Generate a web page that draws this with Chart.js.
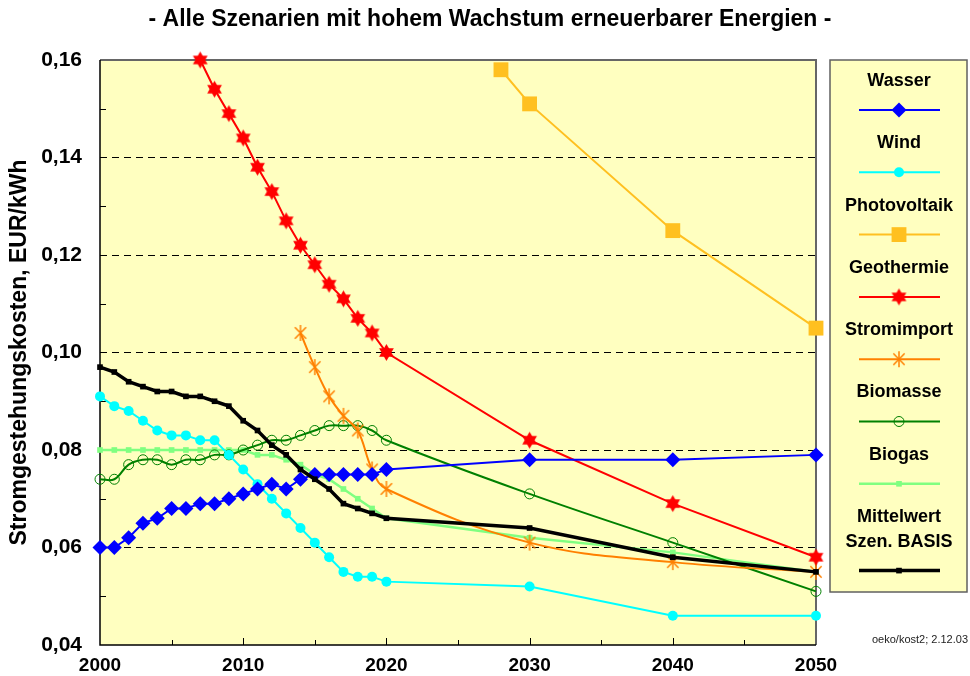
<!DOCTYPE html>
<html>
<head>
<meta charset="utf-8">
<script src="https://cdn.jsdelivr.net/npm/chart.js@4.4.1/dist/chart.umd.min.js"></script>
<style>
  html, body { margin: 0; padding: 0; background: #fff; }
  #wrap { position: relative; width: 970px; height: 676px; }
</style>
</head>
<body>
<div id="wrap"><canvas id="chart" width="970" height="676"></canvas></div>
<script>
// Data (EUR/kWh)
const years = [2000, 2001, 2002, 2003, 2004, 2005, 2006, 2007, 2008, 2009, 2010,
               2011, 2012, 2013, 2014, 2015, 2016, 2017, 2018, 2019, 2020,
               2030, 2040, 2050];
const wasser = [0.060, 0.060, 0.062, 0.065, 0.066, 0.068, 0.068, 0.069, 0.069, 0.070, 0.071,
                0.072, 0.073, 0.072, 0.074, 0.075, 0.075, 0.075, 0.075, 0.075, 0.076,
                0.078, 0.078, 0.079];
const wind = [0.091, 0.089, 0.088, 0.086, 0.084, 0.083, 0.083, 0.082, 0.082, 0.079, 0.076,
              0.073, 0.070, 0.067, 0.064, 0.061, 0.058, 0.055, 0.054, 0.054, 0.053,
              0.052, 0.046, 0.046];
const pvYears = [2028, 2030, 2040, 2050];
const photovoltaik = [0.158, 0.151, 0.125, 0.105];
const geothermie = [null, null, null, null, null, null, null, 0.160, 0.154, 0.149, 0.144,
                    0.138, 0.133, 0.127, 0.122, 0.118, 0.114, 0.111, 0.107, 0.104, 0.100,
                    0.082, 0.069, 0.058];
const stromimport = [null, null, null, null, null, null, null, null, null, null, null,
                     null, null, null, 0.104, 0.097, 0.091, 0.087, 0.084, 0.076, 0.072,
                     0.061, 0.057, 0.055];
const biomasse = [0.074, 0.074, 0.077, 0.078, 0.078, 0.077, 0.078, 0.078, 0.079, 0.079, 0.080,
                  0.081, 0.082, 0.082, 0.083, 0.084, 0.085, 0.085, 0.085, 0.084, 0.082,
                  0.071, 0.061, 0.051];
const biogas = [0.080, 0.080, 0.080, 0.080, 0.080, 0.080, 0.080, 0.080, 0.080, 0.080, 0.080,
                0.079, 0.079, 0.078, 0.077, 0.075, 0.074, 0.072, 0.070, 0.068, 0.066,
                0.062, 0.059, 0.055];
const mittelwert = [0.097, 0.096, 0.094, 0.093, 0.092, 0.092, 0.091, 0.091, 0.090, 0.089, 0.086,
                    0.084, 0.081, 0.079, 0.076, 0.074, 0.072, 0.069, 0.068, 0.067, 0.066,
                    0.064, 0.058, 0.055];

const yTicks = [0.04, 0.06, 0.08, 0.10, 0.12, 0.14, 0.16];
const xTickLabels = [2000, 2010, 2020, 2030, 2040, 2050];

function pts(xs, ys) {
    return xs.map((x, i) => ({ x: x, y: ys[i] }));
}

// filled six-pointed star marker
function hexagram(color, r) {
    const c = document.createElement('canvas');
    const s = Math.ceil(r * 2 + 2);
    c.width = c.height = s;
    const g = c.getContext('2d');
    g.fillStyle = color;
    [-Math.PI / 2, Math.PI / 2].forEach(off => {
        g.beginPath();
        for (let i = 0; i < 3; i++) {
            const a = off + i * 2 * Math.PI / 3;
            g.lineTo(s / 2 + r * Math.cos(a), s / 2 + r * Math.sin(a));
        }
        g.closePath();
        g.fill();
    });
    return c;
}

// asterisk marker (vertical + X)
function asterisk(color, r) {
    const c = document.createElement('canvas');
    const s = Math.ceil(r * 2 + 2);
    c.width = c.height = s;
    const g = c.getContext('2d');
    g.strokeStyle = color;
    g.lineWidth = 1.5;
    [Math.PI / 2, Math.PI / 4, -Math.PI / 4].forEach(a => {
        g.beginPath();
        g.moveTo(s / 2 - r * Math.cos(a), s / 2 - r * Math.sin(a));
        g.lineTo(s / 2 + r * Math.cos(a), s / 2 + r * Math.sin(a));
        g.stroke();
    });
    return c;
}

const starRed = hexagram('#FF0000', 8.5);
const starOrange = asterisk('#FF8000', 8);

const datasets = [
    { label: 'Wasser', data: pts(years, wasser), borderColor: '#0000FF', backgroundColor: '#0000FF',
      borderWidth: 2, pointStyle: 'rectRot', pointRadius: 7.5 },
    { label: 'Wind', data: pts(years, wind), borderColor: '#00FFFF', backgroundColor: '#00FFFF',
      borderWidth: 2, pointStyle: 'circle', pointRadius: 5 },
    { label: 'Photovoltaik', data: pts(pvYears, photovoltaik), borderColor: '#FFC020', backgroundColor: '#FFC020',
      borderWidth: 2, pointStyle: 'rect', pointRadius: 10.5 },
    { label: 'Geothermie', data: pts(years, geothermie), borderColor: '#FF0000', backgroundColor: '#FF0000',
      borderWidth: 2, pointStyle: starRed },
    { label: 'Stromimport', data: pts(years, stromimport), borderColor: '#FF8000', backgroundColor: '#FF8000',
      borderWidth: 2, pointStyle: starOrange, tension: 0.4 },
    { label: 'Biomasse', data: pts(years, biomasse), borderColor: '#008000', backgroundColor: 'rgba(0,0,0,0)',
      borderWidth: 2, pointStyle: 'circle', pointRadius: 5, pointBorderWidth: 1, tension: 0.4 },
    { label: 'Biogas', data: pts(years, biogas), borderColor: '#80FF80', backgroundColor: '#80FF80',
      borderWidth: 2.5, pointStyle: 'rect', pointRadius: 4 },
    { label: 'Mittelwert\nSzen. BASIS', data: pts(years, mittelwert), borderColor: '#000000', backgroundColor: '#000000',
      borderWidth: 3.5, pointStyle: 'rect', pointRadius: 4, order: -1 }
];
datasets.forEach(d => {
    d.clip = false;
    d.pointBackgroundColor = d.backgroundColor;
    d.pointBorderColor = d.borderColor;
    if (d.pointBorderWidth === undefined) d.pointBorderWidth = 0;
    d.fill = false;
});

// plot background + title
const plotBg = {
    id: 'plotBg',
    beforeDraw(chart) {
        const a = chart.chartArea, ctx = chart.ctx;
        ctx.save();
        ctx.fillStyle = '#FFFFC0';
        ctx.fillRect(a.left, a.top, a.right - a.left, a.bottom - a.top);
        ctx.fillStyle = '#000';
        ctx.font = 'bold 23px "Liberation Sans", Arial, sans-serif';
        ctx.textAlign = 'center';
        ctx.textBaseline = 'middle';
        ctx.fillText('- Alle Szenarien mit hohem Wachstum erneuerbarer Energien -', 490, 20);
        ctx.restore();
    }
};

// frame and small inside ticks
const frame = {
    id: 'frame',
    beforeDatasetsDraw(chart) {
        const a = chart.chartArea, ctx = chart.ctx;
        const xs = chart.scales.x, ys = chart.scales.y;
        ctx.save();
        ctx.strokeStyle = '#000';
        ctx.lineWidth = 1;
        ctx.beginPath();
        for (let yr = 2005; yr < 2050; yr += 5) {
            const px = Math.round(xs.getPixelForValue(yr)) + 0.5;
            ctx.moveTo(px, a.bottom);
            ctx.lineTo(px, a.bottom - (yr % 10 === 0 ? 7 : 5));
        }
        for (let v = 5; v < 16; v += 2) {
            const py = Math.round(ys.getPixelForValue(v / 100)) + 0.5;
            ctx.moveTo(a.left, py);
            ctx.lineTo(a.left + 6, py);
        }
        ctx.stroke();
        ctx.strokeStyle = '#666';
        ctx.lineWidth = 2;
        ctx.beginPath();
        ctx.moveTo(a.left, a.top);
        ctx.lineTo(a.right, a.top);
        ctx.lineTo(a.right, a.bottom);
        ctx.stroke();
        ctx.strokeStyle = '#000';
        ctx.lineWidth = 1.5;
        ctx.beginPath();
        ctx.moveTo(a.left, a.top);
        ctx.lineTo(a.left, a.bottom);
        ctx.lineTo(a.right, a.bottom);
        ctx.stroke();
        ctx.restore();
    }
};

function drawMarker(ctx, ds, x, y) {
    if (ds.pointStyle instanceof HTMLCanvasElement) {
        ctx.drawImage(ds.pointStyle, x - ds.pointStyle.width / 2, y - ds.pointStyle.height / 2);
        return;
    }
    ctx.fillStyle = ds.pointBackgroundColor;
    ctx.strokeStyle = ds.pointBorderColor;
    ctx.lineWidth = ds.pointBorderWidth || 0;
    Chart.helpers.drawPoint(ctx, {
        pointStyle: ds.pointStyle, radius: ds.pointRadius, rotation: 0,
        borderWidth: ds.pointBorderWidth || 0
    }, x, y);
}

// legend box on the right
const legendBox = {
    id: 'legendBox',
    afterDraw(chart) {
        const ctx = chart.ctx;
        ctx.save();
        ctx.fillStyle = '#FFFFC0';
        ctx.fillRect(830, 60, 137, 532);
        ctx.strokeStyle = '#606060';
        ctx.lineWidth = 1.5;
        ctx.strokeRect(830, 60, 137, 532);
        const cx = 899;
        let labelY = 81;
        chart.data.datasets.forEach(ds => {
            const lines = ds.label.split('\n');
            ctx.fillStyle = '#000';
            ctx.font = 'bold 18px "Liberation Sans", Arial, sans-serif';
            ctx.textAlign = 'center';
            ctx.textBaseline = 'middle';
            lines.forEach((t, i) => ctx.fillText(t, cx, labelY + i * 24.5));
            const lineY = labelY + (lines.length - 1) * 24.5 + 29;
            ctx.strokeStyle = ds.borderColor;
            ctx.lineWidth = ds.borderWidth;
            ctx.beginPath();
            ctx.moveTo(859, lineY);
            ctx.lineTo(940, lineY);
            ctx.stroke();
            drawMarker(ctx, ds, cx, lineY);
            labelY += 62.3;
        });
        ctx.fillStyle = '#222';
        ctx.font = '11px "Liberation Sans", Arial, sans-serif';
        ctx.textAlign = 'right';
        ctx.textBaseline = 'middle';
        ctx.fillText('oeko/kost2; 2.12.03', 968, 640);
        ctx.restore();
    }
};

new Chart(document.getElementById('chart'), {
    type: 'line',
    data: { datasets: datasets },
    options: {
        responsive: false,
        animation: false,
        layout: { padding: { top: 60, right: 154, bottom: 0, left: 0 } },
        plugins: {
            legend: { display: false },
            tooltip: { enabled: false },
            title: { display: false }
        },
        scales: {
            x: {
                type: 'linear',
                min: 2000,
                max: 2050,
                afterFit(scale) { scale.height = 31; },
                afterBuildTicks(scale) { scale.ticks = xTickLabels.map(v => ({ value: v })); },
                grid: { display: false, drawTicks: false },
                border: { display: false },
                ticks: {
                    color: '#000',
                    padding: 9,
                    maxRotation: 0,
                    font: { family: '"Liberation Sans", Arial, sans-serif', size: 19, weight: 'bold' },
                    callback: v => String(v)
                }
            },
            y: {
                min: 0.04,
                max: 0.16,
                afterFit(scale) { scale.width = 100; },
                afterBuildTicks(scale) { scale.ticks = yTicks.map(v => ({ value: v })); },
                grid: {
                    drawTicks: false,
                    color: ctx => (ctx.tick && ctx.tick.value > 0.05 && ctx.tick.value < 0.15) ? '#000' : 'rgba(0,0,0,0)',
                    lineWidth: 1
                },
                border: { display: false, dash: [7, 5] },
                ticks: {
                    color: '#000',
                    padding: 18,
                    font: { family: '"Liberation Sans", Arial, sans-serif', size: 21, weight: 'bold' },
                    callback: v => v.toFixed(2).replace('.', ',')
                },
                title: {
                    display: true,
                    text: 'Stromgestehungskosten, EUR/kWh',
                    color: '#000',
                    font: { family: '"Liberation Sans", Arial, sans-serif', size: 23, weight: 'bold', lineHeight: 1.2 },
                    padding: { top: 6, bottom: 0 }
                }
            }
        }
    },
    plugins: [plotBg, frame, legendBox]
});
</script>
</body>
</html>
